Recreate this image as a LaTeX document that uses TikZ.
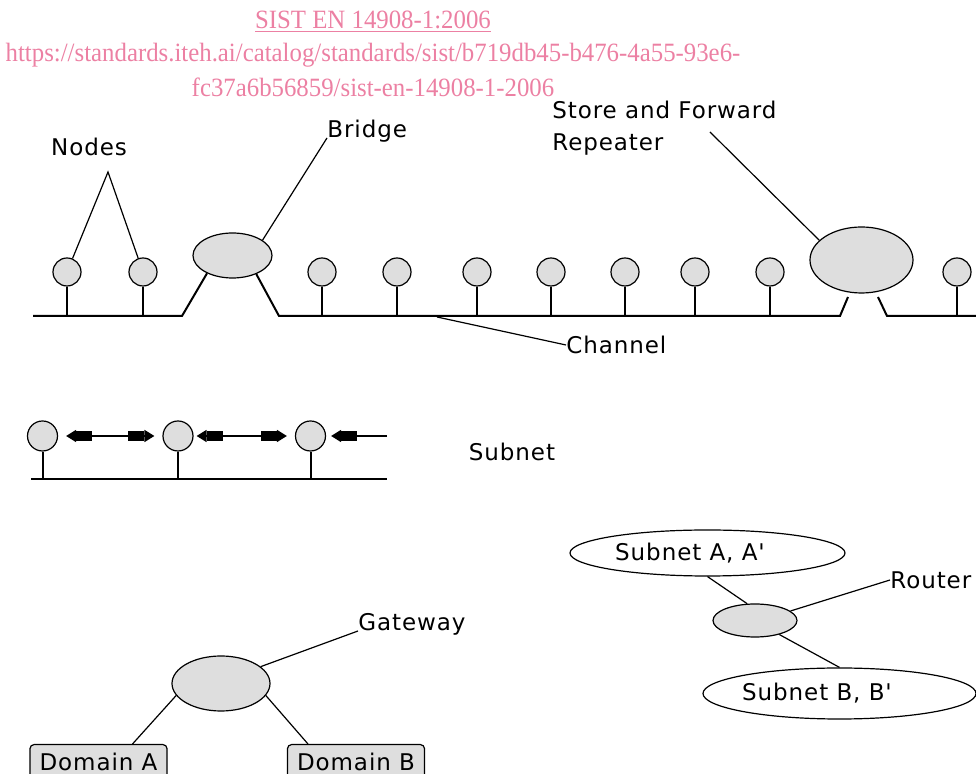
\documentclass[tikz,border=0pt]{standalone}
\usepackage{fontspec}
\newfontfamily\dvs[LetterSpace=4]{DejaVu Sans}
\newfontfamily\wmf[FakeStretch=0.94]{Liberation Serif}
\usetikzlibrary{arrows.meta,shapes.geometric,calc}
\definecolor{wmpink}{RGB}{236,128,163}
\definecolor{devgray}{RGB}{222,222,222}
\tikzset{
  stn/.style ={circle,draw,fill=devgray,minimum size=14pt,inner sep=0pt,line width=0.6pt},
  dev/.style ={ellipse,draw,fill=devgray,inner sep=0pt,line width=0.6pt},
  net/.style ={ellipse,draw,fill=white,inner sep=0pt,line width=0.6pt},
  dom/.style ={draw,rounded corners=2pt,fill=devgray,font=\dvs\fontsize{11.5}{13}\selectfont,
               minimum width=68.5pt,minimum height=17pt,inner sep=0pt,line width=0.6pt},
  lbl/.style ={font=\dvs\fontsize{11.5}{16}\selectfont,inner sep=0pt},
  wm/.style  ={font=\wmf\fontsize{13.2}{15}\selectfont,text=wmpink,inner sep=0pt},
  bus/.style ={line width=1pt},
  ptr/.style ={line width=0.6pt},
  ar/.style  ={line width=0.8pt,arrows={{Triangle[length=5pt,width=6pt,sep=0pt]Square[length=8pt,width=5pt,sep=0pt]}-{Square[length=8pt,width=5pt,sep=0pt]Triangle[length=5pt,width=6pt,sep=0pt]}}},
  arl/.style ={line width=0.8pt,arrows={-{Square[length=8pt,width=5pt,sep=0pt]Triangle[length=5pt,width=6pt,sep=0pt]}}},
}

\begin{document}
\begin{tikzpicture}[x=0.5pt,y=-0.5pt]
\useasboundingbox (0,0) rectangle (976,774);
\clip (0,0) rectangle (976,774);
% header
\node[wm] (wm1) at (373,22) {\underline{SIST EN 14908-1:2006}};
\node[wm] (wm2) at (373,55) {https://standards.iteh.ai/catalog/standards/sist/b719db45-b476-4a55-93e6-};
\node[wm] (wm3) at (373,87) {fc37a6b56859/sist-en-14908-1-2006};

% channel
\node[dev,minimum width=39.5pt,minimum height=22.5pt] (br) at (232.5,255.5) {};
\node[dev,minimum width=51.5pt,minimum height=33pt] (rp) at (861.5,260) {};
\coordinate (c0) at (33,316); \coordinate (c1) at (182,316);
\coordinate (c2) at (279,316); \coordinate (c3) at (840,316);
\coordinate (c4) at (848,297); \coordinate (c5) at (878,297);
\coordinate (c6) at (887,316); \coordinate (c7) at (976,316);
\draw[bus] (c0) -- (c1) -- (br.215);
\draw[bus] (br.322) -- (c2) -- (c3) -- (c4);
\draw[bus] (c5) -- (c6) -- (c7);
\foreach \x [count=\i] in {67,143,322,397,477,551,625,695,770,957}{
  \node[stn] (n\i) at (\x,272) {};
  \draw[bus] (n\i) -- (n\i |- c0);
}
\node[lbl] (lnodes) at (89,147) {Nodes};
\coordinate (ntip) at (108,172);
\draw[ptr] (n1) -- (ntip) -- (n2);
\node[lbl,anchor=base west] (lbridge) at (327,138) {Bridge};
\draw[ptr] (lbridge.base west) -- (br.27);
\node[lbl,anchor=north west,align=left] (lrep) at (552,101) {Store and Forward\\Repeater};
\coordinate (rtip) at (710,132);
\draw[ptr] (rtip) -- (rp.155);
\node[lbl,anchor=west] (lchan) at (566,345) {Channel};
\coordinate (ctip) at (437,317);
\draw[ptr] (ctip) -- (lchan.west);

% subnet
\coordinate (d0) at (31,479); \coordinate (d1) at (387,479);
\draw[bus] (d0) -- (d1);
\foreach \x [count=\i] in {42.5,178,310.5}{
  \node[stn,minimum size=15pt] (s\i) at (\x,436) {};
  \draw[bus] (s\i) -- (s\i |- d0);
}
\draw[ar,shorten <=4pt,shorten >=4pt] (s1) -- (s2);
\draw[ar,shorten <=1.5pt,shorten >=4pt] (s2) -- (s3);
\coordinate (aend) at (387,436);
\draw[arl,shorten >=2.5pt] (aend) -- (s3);
\node[lbl] (lsub) at (512,452) {Subnet};

% gateway
\node[dev,minimum width=49pt,minimum height=27.5pt] (gw) at (221,683.5) {};
\node[lbl,anchor=base west] (lgw) at (358,631) {Gateway};
\draw[ptr] (lgw.base west) -- (gw.23);
\node[dom,anchor=north] (da) at (98.5,744) {Domain A};
\node[dom,anchor=north] (db) at (356,744) {Domain B};
\draw[ptr] (gw.195) -- ([xshift=17pt]da.north);
\draw[ptr] (gw.345) -- ([xshift=-24pt]db.north);

% router
\node[net,minimum width=137.5pt,minimum height=23pt] (sa) at (707.5,553) {};
\node[lbl] (tsa) at (690,553) {Subnet A, A'};
\node[dev,minimum width=42pt,minimum height=16.5pt] (rt) at (755,620.5) {};
\node[net,minimum width=136.5pt,minimum height=25.5pt] (sb) at (839.5,693.5) {};
\node[lbl] (tsb) at (817,693) {Subnet B, B'};
\node[lbl,anchor=west] (lrt) at (890,580) {Router};
\draw[ptr] (sa.south) -- (rt.115);
\draw[ptr] (rt.330) -- (sb.north);
\draw[ptr] (lrt.west) -- (rt.15);
\end{tikzpicture}
\end{document}
